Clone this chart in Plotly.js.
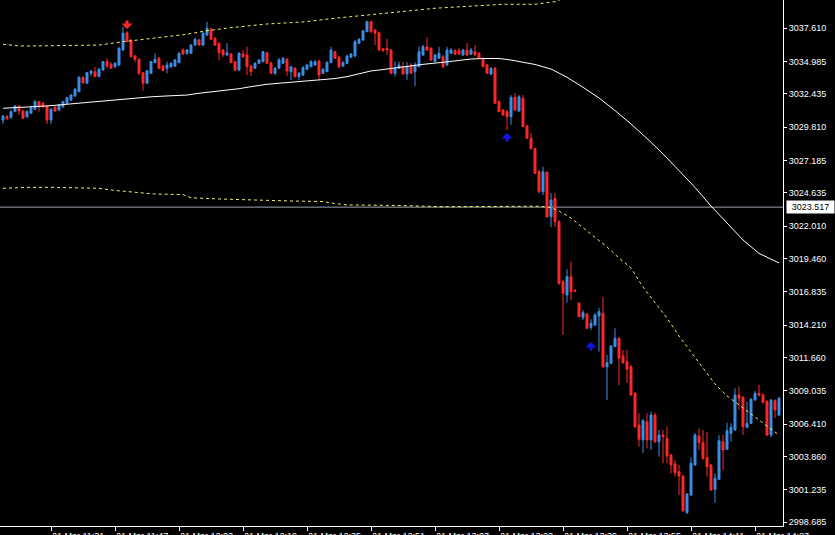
<!DOCTYPE html>
<html><head><meta charset="utf-8">
<script src="https://cdn.plot.ly/plotly-3.0.1.min.js"></script>
<style>html,body{margin:0;padding:0;background:#000;}#chart{width:835px;height:535px;}</style>
</head><body><div id="chart"></div>
<script>
// ---- data (1-minute candles, 21 Mar, first candle 11:19) ----
const chartDate = '2025-03-21';
const firstMinute = '11:19';
const open = [3030.38,3030.64,3030.60,3031.04,3031.49,3031.09,3030.64,3030.91,3031.23,3031.83,
3031.70,3031.49,3030.38,3031.39,3031.17,3031.43,3031.70,3031.96,3032.28,3032.61,
3033.72,3033.28,3034.06,3034.19,3033.80,3034.32,3034.98,3034.77,3034.58,3034.72,
3035.90,3037.26,3036.69,3035.43,3035.17,3034.11,3033.28,3034.06,3034.90,3035.25,
3034.64,3034.46,3034.58,3034.64,3034.90,3035.90,3035.64,3035.64,3036.29,3036.69,
3036.29,3037.08,3037.55,3036.82,3036.43,3035.90,3035.51,3035.58,3034.98,3034.32,
3035.58,3035.51,3034.64,3034.46,3034.85,3034.98,3035.69,3034.90,3034.06,3034.46,
3034.85,3035.17,3034.19,3034.46,3033.80,3033.93,3034.38,3034.58,3034.72,3035.03,
3034.06,3034.19,3034.90,3035.77,3035.33,3034.64,3034.85,3035.33,3035.43,3036.43,
3036.69,3037.34,3038.13,3037.48,3037.26,3035.98,3036.03,3035.90,3034.06,3034.46,
3034.58,3034.01,3034.72,3034.19,3034.58,3035.51,3036.16,3036.03,3034.98,3035.25,
3035.37,3034.72,3035.64,3035.84,3035.84,3035.51,3035.90,3035.56,3035.77,3035.64,
3035.25,3034.72,3034.01,3034.46,3031.83,3031.17,3031.04,3030.64,3032.17,3031.09,
3032.09,3029.91,3028.94,3028.13,3026.31,3024.73,3026.26,3022.76,3024.21,3022.37,
3017.64,3016.59,3018.04,3016.95,3015.94,3014.84,3015.10,3014.05,3014.23,3014.94,
3015.15,3010.94,3011.21,3012.52,3013.18,3011.79,3011.34,3010.94,3008.85,3006.35,
3005.17,3006.61,3005.17,3007.14,3005.03,3005.56,3005.30,3003.99,3003.28,3002.67,
3002.33,2999.44,3000.83,3003.20,3005.48,3004.96,3003.80,3003.20,3001.28,3002.07,
3005.03,3004.43,3005.70,3005.96,3008.71,3008.53,3006.17,3006.48,3008.32,3008.85,
3008.71,3008.19,3005.56,3008.27,3007.14];
const high = [3030.78,3030.78,3031.17,3031.57,3031.57,3031.17,3031.17,3031.49,3031.96,3031.88,
3031.80,3031.57,3031.31,3031.49,3031.65,3031.88,3032.20,3032.43,3032.91,3033.85,
3033.85,3034.17,3034.32,3034.56,3034.48,3035.03,3035.25,3034.95,3034.95,3036.14,
3037.74,3037.40,3036.77,3035.51,3035.27,3034.17,3034.32,3035.03,3035.64,3035.35,
3034.72,3034.98,3034.95,3035.19,3035.74,3036.03,3035.98,3036.37,3036.85,3036.77,
3037.32,3038.13,3037.63,3036.92,3036.53,3035.98,3036.43,3035.66,3035.03,3035.74,
3035.90,3036.16,3034.72,3034.95,3035.19,3035.82,3035.74,3034.95,3034.56,3035.27,
3035.35,3035.27,3034.64,3034.56,3034.17,3034.64,3034.80,3035.11,3035.11,3035.11,
3034.48,3035.03,3036.14,3035.82,3035.43,3035.03,3035.51,3035.66,3036.69,3036.85,
3037.48,3038.21,3038.19,3037.55,3037.32,3036.06,3036.77,3035.98,3034.98,3034.98,
3034.95,3034.95,3034.88,3034.95,3036.16,3036.29,3036.90,3036.14,3035.58,3036.14,
3035.51,3036.14,3036.06,3035.98,3036.06,3035.98,3036.43,3036.06,3036.29,3035.74,
3035.35,3034.80,3034.56,3034.56,3031.96,3031.25,3031.17,3032.35,3032.51,3032.35,
3032.35,3029.99,3029.36,3028.19,3026.44,3026.70,3026.37,3024.63,3024.63,3022.50,
3017.78,3018.62,3019.22,3017.07,3016.04,3015.41,3015.18,3014.68,3015.18,3015.55,
3016.46,3011.87,3012.65,3013.97,3013.28,3012.26,3012.26,3011.08,3008.95,3007.27,
3006.82,3007.27,3007.40,3007.30,3005.96,3005.96,3006.22,3004.07,3003.59,3003.20,
3002.41,3000.99,3003.80,3005.72,3006.09,3005.96,3005.82,3003.28,3002.54,3005.56,
3005.56,3006.53,3006.48,3009.24,3009.37,3008.64,3008.19,3008.48,3009.03,3009.50,
3008.87,3008.32,3008.40,3008.40,3008.56];
const low = [3030.07,3030.38,3030.46,3031.01,3030.78,3030.46,3030.54,3030.86,3031.17,3031.04,
3031.33,3030.07,3030.07,3031.01,3031.09,3031.33,3031.65,3031.88,3032.20,3032.59,
3033.22,3033.22,3033.85,3033.77,3033.77,3034.28,3034.46,3034.40,3034.48,3034.64,
3035.82,3036.53,3035.35,3034.95,3033.93,3032.69,3033.22,3034.01,3034.88,3034.40,
3034.25,3034.06,3034.48,3034.56,3034.88,3035.51,3035.51,3035.58,3036.22,3036.22,
3036.22,3037.00,3036.69,3036.22,3035.11,3035.35,3035.43,3034.88,3034.25,3034.25,
3035.27,3033.93,3033.85,3034.40,3034.80,3034.95,3034.80,3034.01,3033.93,3034.40,
3034.80,3033.87,3033.54,3033.73,3033.54,3033.85,3034.32,3034.56,3034.64,3033.54,
3034.01,3034.17,3034.88,3035.19,3034.48,3034.56,3034.80,3035.27,3035.35,3036.37,
3036.61,3037.32,3037.24,3036.29,3035.82,3035.74,3035.51,3034.01,3033.80,3034.40,
3033.93,3033.54,3034.01,3033.06,3034.56,3035.43,3035.82,3035.03,3034.95,3035.19,
3034.48,3034.64,3035.58,3035.51,3035.51,3035.43,3035.43,3035.51,3035.43,3035.19,
3034.56,3034.01,3033.93,3031.65,3031.01,3030.70,3029.60,3029.99,3031.09,3031.01,
3029.83,3028.89,3028.05,3026.13,3024.63,3024.47,3022.66,3021.95,3021.95,3017.38,
3013.44,3015.99,3016.20,3016.83,3014.86,3014.62,3013.92,3013.84,3014.15,3012.13,
3010.84,3008.32,3011.16,3012.50,3009.50,3011.16,3009.66,3008.64,3006.11,3004.64,
3004.14,3004.51,3004.38,3004.93,3003.85,3003.33,3003.33,3002.54,3002.28,3000.83,
2999.49,2999.34,3000.76,3003.12,3004.38,3003.59,3002.28,3001.15,3000.23,3002.02,
3002.80,3004.38,3005.03,3005.88,3007.53,3005.56,3006.09,3006.43,3008.24,3008.58,
3008.08,3005.48,3005.40,3006.88,3007.06];
const close = [3030.70,3030.49,3031.04,3031.49,3031.09,3030.52,3031.04,3031.35,3031.83,3031.43,
3031.43,3030.38,3031.23,3031.09,3031.57,3031.83,3032.14,3032.35,3032.80,3033.75,
3033.32,3034.11,3034.25,3033.80,3034.38,3034.98,3034.64,3034.46,3034.85,3036.03,
3037.22,3036.55,3035.37,3035.17,3034.06,3033.28,3034.27,3034.98,3035.17,3034.46,
3034.27,3034.72,3034.85,3035.11,3035.64,3035.58,3035.90,3036.29,3036.74,3036.29,
3037.22,3037.61,3036.74,3036.29,3035.69,3035.51,3035.69,3034.90,3034.32,3035.64,
3035.37,3034.58,3034.19,3034.85,3035.11,3035.77,3034.85,3034.06,3034.46,3035.11,
3035.25,3034.25,3034.58,3033.80,3034.06,3034.51,3034.72,3034.98,3034.98,3033.93,
3034.38,3034.90,3035.90,3035.25,3034.58,3034.90,3035.43,3035.58,3036.55,3036.74,
3037.42,3038.13,3037.34,3037.22,3035.90,3035.88,3035.90,3034.06,3034.46,3034.72,
3034.01,3034.58,3034.06,3034.72,3035.77,3036.16,3035.90,3035.11,3035.51,3035.64,
3034.58,3035.90,3035.90,3035.58,3035.58,3035.90,3035.51,3035.90,3035.51,3035.25,
3034.58,3034.06,3034.46,3031.70,3031.04,3030.78,3030.64,3032.17,3031.17,3032.22,
3029.86,3028.94,3028.13,3026.18,3024.73,3026.31,3022.76,3024.08,3022.37,3017.52,
3016.73,3018.04,3016.85,3016.87,3014.88,3015.20,3013.97,3014.36,3015.02,3015.28,
3010.94,3011.26,3012.58,3013.18,3011.61,3011.26,3010.74,3008.71,3006.22,3005.22,
3006.69,3005.17,3007.14,3005.03,3005.56,3005.43,3003.91,3003.20,3002.59,3002.33,
2999.60,3000.91,3003.33,3005.56,3004.96,3003.73,3003.06,3001.23,3002.15,3005.11,
3004.38,3005.90,3006.17,3008.71,3008.45,3006.22,3006.48,3008.37,3008.85,3008.71,
3008.11,3005.56,3008.32,3007.53,3008.45];

// moving average (white) and bands (yellow), read at selected candle indices
const maIdx = [0,3,7,11,14,17,20,23,26,29,33,37,41,46,49,52,56,59,62,66,69,76,80,83,86,89,92,95,100,105,110,113,117,120,124,127,130,133,137,141,145,149,153,157,161,165,169,173,177,181,185,189,193,194];
const maVal = [3031.31,3031.35,3031.41,3031.49,3031.57,3031.65,3031.75,3031.86,3031.94,3032.02,3032.12,3032.21,3032.28,3032.35,3032.49,3032.59,3032.72,3032.85,3033.01,3033.20,3033.28,3033.46,3033.56,3033.65,3033.80,3034.01,3034.25,3034.36,3034.58,3034.77,3034.93,3035.05,3035.19,3035.23,3035.23,3035.11,3034.95,3034.76,3034.40,3033.75,3032.96,3032.12,3031.13,3030.07,3028.93,3027.71,3026.40,3025.07,3023.61,3022.23,3020.93,3019.87,3019.27,3019.12];
const upIdx = [0,4,8,16,24,30,35,41,46,51,57,66,72,75,83,89,94,102,108,117,125,133,138,141];
const upVal = [3036.35,3036.22,3036.22,3036.25,3036.29,3036.55,3036.74,3036.95,3037.14,3037.42,3037.66,3037.95,3038.05,3038.11,3038.40,3038.60,3038.79,3039.00,3039.19,3039.37,3039.50,3039.50,3039.71,3040.08];
const loIdx = [0,5,12,20,24,28,33,38,45,47,54,63,72,80,82,86,99,110,120,125,134,137,139,142,146,149,151,154,157,160,163,166,169,172,175,178,181,184,187,190,193,194];
const loVal = [3025.00,3025.07,3025.08,3025.03,3025.00,3024.83,3024.69,3024.55,3024.51,3024.26,3024.16,3024.06,3024.00,3023.96,3023.84,3023.69,3023.65,3023.55,3023.57,3023.63,3023.59,3023.49,3023.21,3022.66,3021.64,3020.93,3020.38,3019.51,3018.72,3017.22,3016.04,3014.78,3013.36,3012.10,3010.84,3009.58,3008.64,3007.93,3007.22,3006.51,3005.80,3005.56];

// signal arrows: candle index and arrow-tip price
const sellIdx = [31];   const sellPrice = [3037.55];
const buyIdx = [126, 147]; const buyPrice = [3029.36, 3012.89];

const currentPrice = 3023.517;
const yTickVals = [3037.610,3034.985,3032.435,3029.810,3027.185,3024.635,3022.010,3019.460,3016.835,3014.210,3011.660,3009.035,3006.410,3003.860,3001.235,2998.685];
const yTickText = yTickVals.map(v => v.toFixed(3));
const yRange = [2998.39, 3039.84];
const firstHiddenLabel = '21 Mar 11:15';

// ---- helpers ----
const [h0, m0] = firstMinute.split(':').map(Number);
function t(k) {
  const m = h0 * 60 + m0 + k;
  const hh = Math.floor(m / 60), mm = m % 60;
  return chartDate + ' ' + String(hh).padStart(2, '0') + ':' + String(mm).padStart(2, '0') + ':00';
}
const times = open.map((_, k) => t(k));

const BLUE = '#3c8fe8', RED = '#ff2828', ARROWBLUE = '#1414e6';
const font = {family: 'Liberation Sans, Arial, sans-serif', size: 9, color: '#ffffff'};

const traces = [
  {type: 'candlestick', x: times, open: open, high: high, low: low, close: close,
   increasing: {line: {color: BLUE, width: 1}, fillcolor: BLUE},
   decreasing: {line: {color: RED, width: 1}, fillcolor: RED},
   whiskerwidth: 0, hoverinfo: 'skip', showlegend: false},
  {type: 'scatter', mode: 'lines', x: maIdx.map(t), y: maVal,
   line: {color: '#ffffff', width: 1}, hoverinfo: 'skip', showlegend: false},
  {type: 'scatter', mode: 'lines', x: upIdx.map(t), y: upVal,
   line: {color: '#f2f26a', width: 1, dash: '3px,3px'}, hoverinfo: 'skip', showlegend: false},
  {type: 'scatter', mode: 'lines', x: loIdx.map(t), y: loVal,
   line: {color: '#f2f26a', width: 1, dash: '3px,3px'}, hoverinfo: 'skip', showlegend: false}
];

const annotations = [];
sellIdx.forEach((k, i) => annotations.push({x: t(k), y: sellPrice[i], xref: 'x', yref: 'y', text: '',
  showarrow: true, ax: 0, ay: -10, arrowhead: 1, arrowsize: 0.62, arrowwidth: 3, arrowcolor: RED, standoff: 0}));
buyIdx.forEach((k, i) => annotations.push({x: t(k), y: buyPrice[i], xref: 'x', yref: 'y', text: '',
  showarrow: true, ax: 0, ay: 10, arrowhead: 1, arrowsize: 0.62, arrowwidth: 3, arrowcolor: ARROWBLUE, standoff: 0}));
annotations.push({x: 1, xref: 'paper', y: currentPrice, yref: 'y', xanchor: 'left', yanchor: 'middle',
  xshift: 3, text: currentPrice.toFixed(3), showarrow: false, bgcolor: '#ffffff',
  font: {family: font.family, size: 9, color: '#000000'}, borderpad: 1, width: 45, align: 'center'});
// partly visible label of the tick just left of the plot area
annotations.push({x: 0, xref: 'paper', y: 0, yref: 'paper',
  xanchor: 'left', yanchor: 'top', xshift: -12, yshift: -6, text: firstHiddenLabel,
  showarrow: false, font: font, borderpad: 0});

const layout = {
  width: 835, height: 535,
  paper_bgcolor: '#000000', plot_bgcolor: '#000000',
  margin: {l: 0, r: 52, t: 0, b: 9, pad: 0},
  showlegend: false,
  font: font,
  xaxis: {type: 'date', range: [chartDate + ' 11:18:15', chartDate + ' 14:34:00'], rangeslider: {visible: false},
    showgrid: false, zeroline: false, showline: true, linecolor: '#ffffff', linewidth: 1,
    ticks: 'outside', ticklen: 4, tickcolor: '#ffffff', tickwidth: 1,
    tick0: chartDate + ' 11:15:00', dtick: 16 * 60 * 1000, tickformat: '%d %b %H:%M',
    ticklabelposition: 'outside right', ticklabelstandoff: 1, tickfont: font, fixedrange: true},
  yaxis: {side: 'right', range: yRange, showgrid: false, zeroline: false,
    showline: true, linecolor: '#ffffff', linewidth: 1,
    ticks: 'outside', ticklen: 3, tickcolor: '#ffffff',
    tickvals: yTickVals, ticktext: yTickText, tickfont: font, fixedrange: true},
  shapes: [{type: 'line', xref: 'paper', x0: 0, x1: 1, yref: 'y', y0: currentPrice, y1: currentPrice,
    line: {color: '#a0a4b0', width: 1}, layer: 'below'}],
  annotations: annotations
};

Plotly.newPlot('chart', traces, layout, {staticPlot: true, displayModeBar: false});
</script></body></html>
